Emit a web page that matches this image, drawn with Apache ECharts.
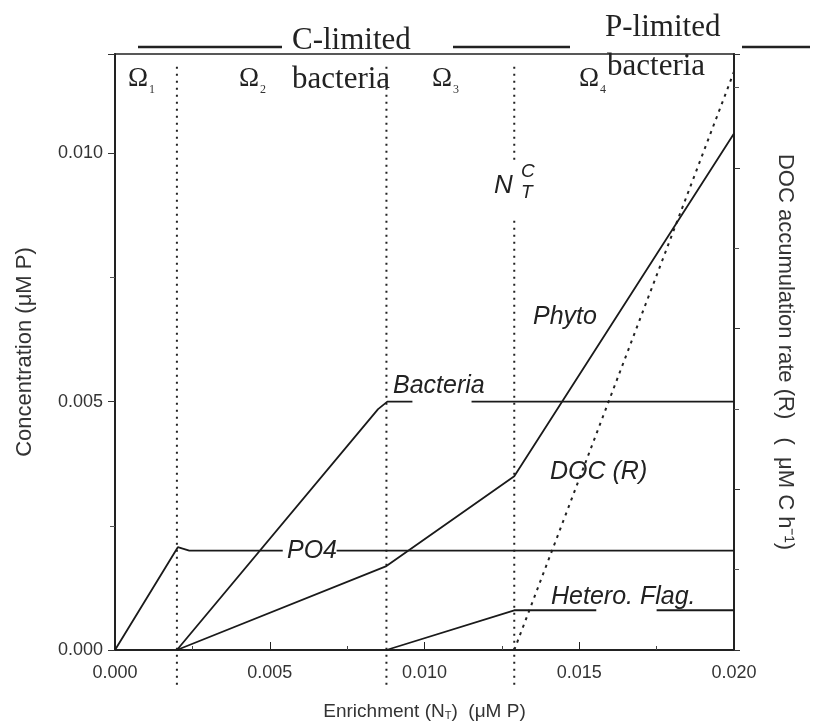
<!DOCTYPE html>
<html><head><meta charset="utf-8">
<script src="https://cdn.jsdelivr.net/npm/echarts@6/dist/echarts.min.js"></script>
<style>html,body{margin:0;padding:0;background:#fff}#c{width:816px;height:722px}</style>
</head><body><div id="c"></div>
<script>
// ---- data ----
const xTickLabels = ['0.000', '0.005', '0.010', '0.015', '0.020'];
const yTickLabels = ['0.000', '0.005', '0.010'];
const GAP = null;
// enrichment (x) , concentration (y, uM P)
const po4       = [[0,0],[0.00203,0.00207],[0.0024,0.0020],[0.00542,0.0020],GAP,[0.00716,0.0020],[0.020,0.0020]];
const bacteria  = [[0.002,0],[0.0085,0.00485],[0.0088,0.0050],[0.00961,0.0050],GAP,[0.01152,0.0050],[0.020,0.0050]];
const phyto     = [[0.002,0],[0.00877,0.00169],[0.0129,0.0035],[0.020,0.0104]];
const heteroFlag= [[0.00877,0],[0.0129,0.0008],[0.01555,0.0008],GAP,[0.0175,0.0008],[0.020,0.0008]];
// DOC accumulation rate (right axis units)
const docRate   = [[0.0129,0],[0.020,7.2]];
// region boundaries (Omega1..Omega4) on enrichment axis
const boundaries = [0.002, 0.00877, 0.0129];
const boundaryYRange = [-0.0007, 0.01176];
const ntcGap = [0.00872, 0.00987];   // gap in the N_T^C boundary line for its label

function toData(arr){ return arr.map(p => p === null ? ['-','-'] : p); }

const LINE = '#1a1a1a';
const dotted = {color:'#222', width:2, type:[2,5]};

function boundarySeries(b, i){
  let d;
  if (i === 2) d = [[b,boundaryYRange[0]],[b,ntcGap[0]],GAP,[b,ntcGap[1]],[b,boundaryYRange[1]]];
  else d = [[b,boundaryYRange[0]],[b,boundaryYRange[1]]];
  return {type:'line', data:toData(d), symbol:'none', clip:false, silent:true,
          lineStyle:dotted, z:1};
}
function solid(name, arr){
  return {name, type:'line', data:toData(arr), symbol:'none', lineStyle:{color:LINE,width:1.8}, z:3};
}

const chart = echarts.init(document.getElementById('c'), null, {renderer:'canvas'});
const serif = '"Liberation Serif","DejaVu Serif",serif';
const sans = '"Liberation Sans",Arial,sans-serif';
const labelStyle = {fontFamily:sans, fontStyle:'italic', fontSize:25, fill:'#222'};

function txt(text, x, y, style, align){
  return {type:'text', x, y, style:Object.assign({text, textAlign:align||'left', textVerticalAlign:'middle'}, style), z:10};
}

const omegaStyle = {fontFamily:serif, fontSize:27, fill:'#222'};
const subStyle = {fontFamily:serif, fontSize:12, fill:'#333'};

const graphics = [
  // top annotations
  {type:'line', shape:{x1:138,y1:47,x2:282,y2:47}, style:{stroke:'#222',lineWidth:2.5}},
  {type:'line', shape:{x1:453,y1:47,x2:570,y2:47}, style:{stroke:'#222',lineWidth:2.5}},
  {type:'line', shape:{x1:742,y1:47,x2:810,y2:47}, style:{stroke:'#222',lineWidth:2.5}},
  txt('C-limited', 292, 41, {fontFamily:serif, fontSize:31, fill:'#222'}),
  txt('bacteria', 292, 80, {fontFamily:serif, fontSize:31, fill:'#222'}),
  txt('P-limited', 605, 28, {fontFamily:serif, fontSize:31, fill:'#222'}),
  txt('bacteria', 607, 67, {fontFamily:serif, fontSize:31, fill:'#222'}),
  // omega region labels
  txt('Ω', 128, 79, omegaStyle),
  txt('1', 149, 90, subStyle),
  txt('Ω', 239, 79, omegaStyle),
  txt('2', 260, 90, subStyle),
  txt('Ω', 432, 79, omegaStyle),
  txt('3', 453, 90, subStyle),
  txt('Ω', 579, 79, omegaStyle),
  txt('4', 600, 90, subStyle),
  // N_T^C
  txt('N', 494, 186, {fontFamily:sans, fontStyle:'italic', fontSize:26, fill:'#222'}),
  txt('C', 521, 172, {fontFamily:sans, fontStyle:'italic', fontSize:19, fill:'#222'}),
  txt('T', 521, 193, {fontFamily:sans, fontStyle:'italic', fontSize:19, fill:'#222'}),
  // series labels
  txt('PO4', 287, 551, labelStyle),
  txt('Bacteria', 393, 386, labelStyle),
  txt('Phyto', 533, 317, labelStyle),
  txt('DOC (R)', 550, 472, labelStyle),
  txt('Hetero. Flag.', 551, 597, labelStyle)
];

chart.setOption({
  animation:false,
  backgroundColor:'#fff',
  grid:{left:115, right:82, top:54, bottom:72, show:true, borderColor:'#222', borderWidth:1.5,
        containLabel:false, outerBoundsMode:'none'},
  xAxis:{type:'value', min:0, max:0.020, interval:0.005,
    name:'Enrichment (N{s|T})  (μM P)', nameLocation:'middle', nameGap:52,
    nameTextStyle:{fontFamily:sans, fontSize:19, color:'#333', rich:{s:{fontSize:11, verticalAlign:'bottom', padding:[8,0,0,0], fontFamily:sans, color:'#333'}}},
    axisLine:{show:true, lineStyle:{color:'#222', width:2}},
    axisTick:{show:true, inside:true, length:8, lineStyle:{color:'#222'}},
    minorTick:{show:true, splitNumber:2, length:4, lineStyle:{color:'#444'}},
    axisLabel:{fontFamily:sans, fontSize:18, color:'#333', margin:14,
      formatter:(v)=>{const i=Math.round(v/0.005); return xTickLabels[i]!==undefined?xTickLabels[i]:'';}},
    splitLine:{show:false}},
  yAxis:[
    {type:'value', min:0, max:0.012, interval:0.005,
     name:'Concentration (μM P)', nameLocation:'middle', nameGap:79, nameRotate:90,
     nameTextStyle:{fontFamily:sans, fontSize:22, color:'#333'},
     axisLine:{show:true, lineStyle:{color:'#222', width:2}},
     axisTick:{show:true, length:7, lineStyle:{color:'#333'}},
     minorTick:{show:true, splitNumber:2, length:5, lineStyle:{color:'#555'}},
     axisLabel:{fontFamily:sans, fontSize:18, color:'#333', margin:12, showMaxLabel:false,
       formatter:(v)=>{const i=Math.round(v/0.005); return yTickLabels[i]!==undefined?yTickLabels[i]:'';}},
     splitLine:{show:false}},
    {type:'value', min:0, max:7.42, interval:2, position:'right',
     name:'DOC accumulation rate (R)   (  μM C h⁻¹)', nameLocation:'middle', nameGap:40, nameRotate:-90,
     nameTextStyle:{fontFamily:sans, fontSize:22, color:'#333'},
     axisLine:{show:true, lineStyle:{color:'#222', width:2}},
     axisTick:{show:true, length:6, lineStyle:{color:'#333'}},
     minorTick:{show:true, splitNumber:2, length:5, lineStyle:{color:'#555'}},
     axisLabel:{show:false}, splitLine:{show:false}}
  ],
  series:[
    ...boundaries.map(boundarySeries),
    solid('PO4', po4),
    solid('Bacteria', bacteria),
    solid('Phyto', phyto),
    solid('Hetero. Flag.', heteroFlag),
    {name:'DOC (R)', type:'line', yAxisIndex:1, data:docRate, symbol:'none', clip:false,
     lineStyle:{color:'#222', width:2, type:[3,5]}, z:2}
  ],
  graphic:graphics
});
</script></body></html>
